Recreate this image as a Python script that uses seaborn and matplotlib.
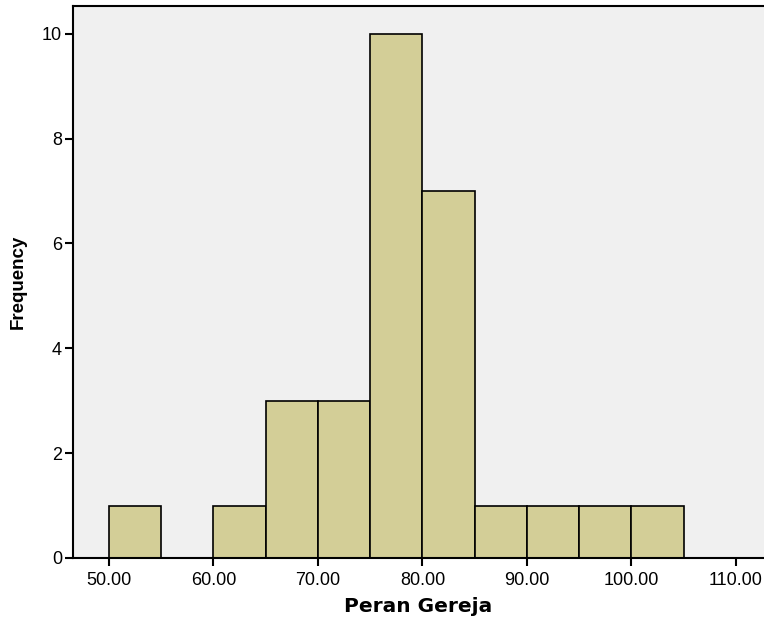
import matplotlib
matplotlib.use("Agg")
import matplotlib.pyplot as plt
import seaborn as sns
import numpy as np
import pandas as pd

bin_edges = [50, 55, 60, 65, 70, 75, 80, 85, 90, 95, 100, 105]
counts = [1, 0, 1, 3, 3, 10, 7, 1, 1, 1, 1]
x_ticks = [50, 60, 70, 80, 90, 100, 110]
x_labels = ["50.00", "60.00", "70.00", "80.00", "90.00", "100.00", "110.00"]
y_ticks = [0, 2, 4, 6, 8, 10]

mids = [(a + b) / 2 for a, b in zip(bin_edges[:-1], bin_edges[1:])]
df = pd.DataFrame({"Peran Gereja": mids, "w": counts})

sns.set_style("white")
plt.rcParams['font.family'] = ['Liberation Sans', 'DejaVu Sans']
plt.rcParams['text.color'] = 'black'
plt.rcParams['axes.labelcolor'] = 'black'
plt.rcParams['xtick.color'] = 'black'
plt.rcParams['ytick.color'] = 'black'

fig = plt.figure(figsize=(7.64, 6.2), dpi=100)
ax = fig.add_axes([73/764, 62/620, 1 - 73/764, 552/620])
ax.set_facecolor("#F0F0F0")
sns.histplot(data=df, x="Peran Gereja", weights="w", bins=bin_edges, ax=ax,
             color="#D3CE97", alpha=1, edgecolor="black", linewidth=1.2)
ax.set_xlim(46.55, 112.7)
ax.set_ylim(0, 10.53)
ax.set_xticks(x_ticks)
ax.set_xticklabels(x_labels)
ax.set_yticks(y_ticks)
ax.tick_params(axis="both", bottom=True, left=True, direction="out", length=6, width=1.5,
               labelsize=13, color="black", labelcolor="black")
ax.tick_params(axis="x", pad=4)
ax.tick_params(axis="y", pad=2)
ax.set_xlabel("Peran Gereja", fontsize=14.5, fontweight="bold", labelpad=6, color="black",
              family=["DejaVu Sans"])
ax.set_ylabel("Frequency", fontsize=13.5, fontweight="bold", labelpad=11, color="black")
for s in ["left", "bottom", "top"]:
    ax.spines[s].set_visible(True)
    ax.spines[s].set_color("black")
    ax.spines[s].set_linewidth(1.5)
ax.spines["right"].set_visible(False)
fig.savefig("out.png", dpi=100)
